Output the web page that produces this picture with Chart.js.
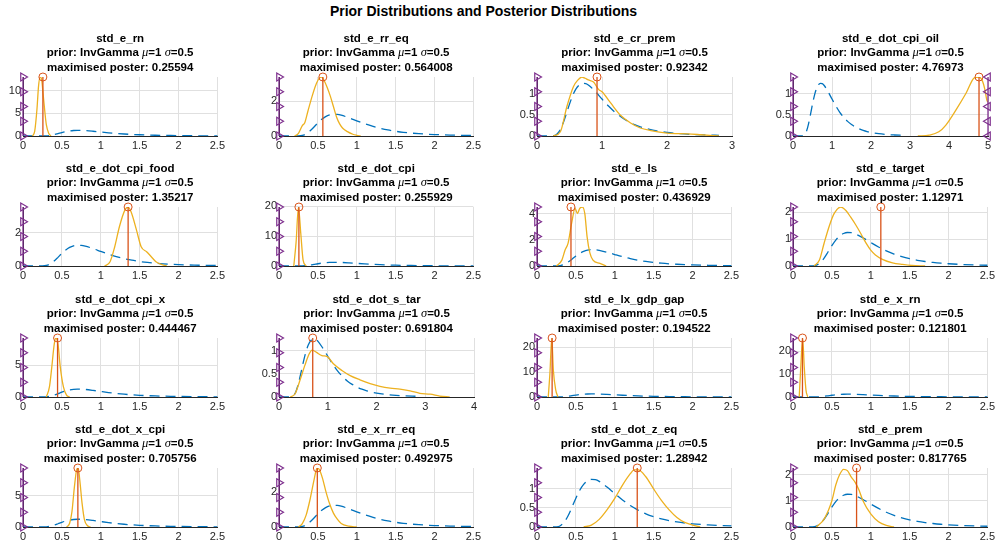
<!DOCTYPE html>
<html>
<head>
<meta charset="utf-8">
<script src="https://cdn.jsdelivr.net/npm/chart.js@4"></script>
<style>
  body { margin: 0; background: #fff; width: 996px; height: 548px; position: relative; overflow: hidden; font-family: "Liberation Sans", Arial, sans-serif; }
  #mainTitle { position: absolute; left: 0; top: 3px; width: 967px; text-align: center; font-weight: bold; font-size: 14px; line-height: 17px; color: #000; }
  canvas { position: absolute; }
</style>
</head>
<body>
<div id="mainTitle">Prior Distributions and Posterior Distributions</div>
<script>
// Paramètres estimés et modes
const paramNames = ["std_e_rn", "std_e_rr_eq", "std_e_cr_prem", "std_e_dot_cpi_oil",
  "std_e_dot_cpi_food", "std_e_dot_cpi", "std_e_ls", "std_e_target",
  "std_e_dot_cpi_x", "std_e_dot_s_tar", "std_e_lx_gdp_gap", "std_e_x_rn",
  "std_e_dot_x_cpi", "std_e_x_rr_eq", "std_e_dot_z_eq", "std_e_prem"];
const modeLabels = ["0.25594", "0.564008", "0.92342", "4.76973",
  "1.35217", "0.255929", "0.436929", "1.12971",
  "0.444467", "0.691804", "0.194522", "0.121801",
  "0.705756", "0.492975", "1.28942", "0.817765"];

// Axes
const xMax = [2.5, 2.5, 3, 5, 2.5, 2.5, 2.5, 2.5, 2.5, 4, 2.5, 2.5, 2.5, 2.5, 2.5, 2.5];
const xStep = [0.5, 0.5, 1, 1, 0.5, 0.5, 0.5, 0.5, 0.5, 1, 0.5, 0.5, 0.5, 0.5, 0.5, 0.5];
const yMax = [13, 3.4, 1.4, 1.4, 3.55, 19.8, 4.5, 2.2, 9.35, 1.27, 23.8, 25.8, 9.5, 3.4, 1.55, 2.25];
const yTicks = [[0, 5, 10], [0, 2], [0, 0.5, 1], [0, 0.5, 1],
  [0, 2], [0, 10, 20], [0, 2, 4], [0, 1, 2],
  [0, 5], [0, 0.5, 1], [0, 10, 20], [0, 10, 20],
  [0, 5], [0, 2], [0, 0.5, 1], [0, 1, 2]];
const upperBound = [null, null, null, 5, null, null, null, null, null, null, null, null, null, null, null, null];

// Prior InvGamma mu=1 sigma=0.5 (même densité pour tous)
const priorX = [0, 0.1, 0.2, 0.25, 0.3, 0.35, 0.4, 0.45, 0.5, 0.55, 0.6, 0.65, 0.7, 0.75, 0.8, 0.9, 1.0,
  1.1, 1.2, 1.3, 1.4, 1.5, 1.6, 1.7, 1.8, 1.9, 2.0, 2.2, 2.4, 2.6, 2.8];
const priorY = [0, 0, 0.0001, 0.004, 0.034, 0.126, 0.296, 0.521, 0.757, 0.965, 1.118, 1.211, 1.249, 1.242, 1.198, 1.05, 0.877,
  0.71, 0.563, 0.444, 0.347, 0.272, 0.213, 0.168, 0.133, 0.105, 0.084, 0.054, 0.035, 0.024, 0.016];

// Densités postérieures
const rnX = [0.12, 0.15, 0.18, 0.2, 0.22, 0.24, 0.26, 0.28, 0.3, 0.33, 0.36];
const rnY = [0, 1, 6, 11, 13, 12.4, 9, 5.5, 2.5, 0.6, 0];
const rrEqX = [0.2, 0.25, 0.3, 0.33, 0.37, 0.42, 0.47, 0.52, 0.55, 0.58, 0.62, 0.66, 0.7, 0.74, 0.78, 0.82, 0.88, 0.95, 1.0, 1.05];
const rrEqY = [0, 0.15, 0.6, 0.75, 1.4, 2.2, 2.9, 3.35, 3.4, 3.2, 2.8, 2.3, 1.7, 1.1, 0.7, 0.45, 0.25, 0.1, 0.04, 0];
const crPremX = [0.25, 0.36, 0.46, 0.56, 0.63, 0.69, 0.74, 0.79, 0.87, 0.95, 1.0, 1.13, 1.28, 1.44, 1.59, 1.75, 2.0, 2.32, 2.52, 2.8];
const crPremY = [0, 0.1, 0.7, 1.17, 1.33, 1.4, 1.37, 1.33, 1.28, 1.1, 1.05, 0.79, 0.5, 0.31, 0.19, 0.13, 0.07, 0.05, 0.03, 0];
const cpiOilX = [3.2, 3.49, 3.74, 3.92, 4.18, 4.44, 4.65, 4.77, 4.86, 4.92, 4.97, 5.0];
const cpiOilY = [0, 0.02, 0.1, 0.26, 0.62, 1.02, 1.38, 1.4, 1.3, 1.1, 0.85, 0.8];
const cpiFoodX = [1.05, 1.12, 1.18, 1.24, 1.31, 1.35, 1.39, 1.46, 1.52, 1.59, 1.65, 1.71, 1.8, 1.85];
const cpiFoodY = [0, 0.26, 1.16, 2.36, 3.36, 3.55, 3.26, 2.16, 1.16, 0.86, 0.56, 0.26, 0.06, 0];
const dotCpiX = [0.19, 0.22, 0.25, 0.28, 0.31, 0.35];
const dotCpiY = [0, 8, 19.8, 11, 2, 0];
const lsX = [0.25, 0.32, 0.36, 0.4, 0.445, 0.49, 0.52, 0.55, 0.585, 0.615, 0.645, 0.68, 0.72, 0.81, 0.89];
const lsY = [0, 0.45, 1.2, 1.75, 3.25, 4.4, 4.0, 4.4, 4.5, 4.0, 2.2, 1.0, 0.45, 0.2, 0];
const targetX = [0.27, 0.34, 0.4, 0.47, 0.53, 0.615, 0.68, 0.74, 0.81, 0.87, 0.94, 1.0, 1.06, 1.15, 1.28, 1.41, 1.53, 1.7];
const targetY = [0, 0.22, 0.85, 1.52, 1.96, 2.2, 2.07, 1.83, 1.52, 1.22, 0.85, 0.59, 0.41, 0.25, 0.12, 0.06, 0.02, 0];
const cpiXX = [0.3, 0.34, 0.37, 0.4, 0.42, 0.45, 0.48, 0.52, 0.56, 0.6];
const cpiXY = [0, 1.6, 4.7, 8.2, 9.35, 8.4, 4.7, 1.6, 0.3, 0];
const sTarX = [0.23, 0.33, 0.43, 0.53, 0.62, 0.68, 0.77, 0.88, 0.99, 1.11, 1.29, 1.46, 1.66, 1.87, 2.07, 2.28, 2.48, 2.69, 2.89, 3.1, 3.3, 3.5];
const sTarY = [0, 0.07, 0.36, 0.68, 0.93, 1.01, 0.96, 0.89, 0.87, 0.72, 0.57, 0.46, 0.37, 0.29, 0.23, 0.19, 0.17, 0.13, 0.08, 0.06, 0.02, 0];
const gdpGapX = [0.145, 0.167, 0.19, 0.21, 0.24, 0.27];
const gdpGapY = [0, 10, 23.8, 11, 3, 0];
const xRnX = [0.08, 0.1, 0.124, 0.145, 0.167, 0.19];
const xRnY = [0, 13, 25.8, 13, 3, 0];
const xCpiX = [0.56, 0.6, 0.63, 0.66, 0.69, 0.71, 0.73, 0.76, 0.79, 0.83, 0.87];
const xCpiY = [0, 0.6, 2.5, 6.3, 9.2, 9.5, 7.6, 3.8, 1.2, 0.2, 0];
const xRrEqX = [0.25, 0.3, 0.35, 0.4, 0.45, 0.48, 0.5, 0.53, 0.56, 0.6, 0.65, 0.7, 0.75, 0.8, 0.9, 1.0];
const xRrEqY = [0, 0.2, 0.7, 1.6, 2.7, 3.3, 3.4, 3.2, 2.8, 2.1, 1.35, 0.8, 0.45, 0.2, 0.05, 0];
const zEqX = [0.6, 0.7, 0.8, 0.9, 1.0, 1.1, 1.2, 1.25, 1.3, 1.4, 1.5, 1.6, 1.7, 1.8, 1.9, 2.0, 2.1];
const zEqY = [0, 0.05, 0.2, 0.45, 0.75, 1.1, 1.4, 1.5, 1.5, 1.32, 1.0, 0.7, 0.45, 0.25, 0.12, 0.05, 0];
const premX = [0.3, 0.4, 0.5, 0.55, 0.6, 0.65, 0.7, 0.75, 0.8, 0.85, 0.9, 1.0, 1.1, 1.2, 1.3];
const premY = [0, 0.3, 1.0, 1.6, 2.0, 2.2, 2.15, 1.9, 1.7, 1.4, 1.0, 0.5, 0.2, 0.06, 0];

const posteriors = [[rnX, rnY], [rrEqX, rrEqY], [crPremX, crPremY], [cpiOilX, cpiOilY],
  [cpiFoodX, cpiFoodY], [dotCpiX, dotCpiY], [lsX, lsY], [targetX, targetY],
  [cpiXX, cpiXY], [sTarX, sTarY], [gdpGapX, gdpGapY], [xRnX, xRnY],
  [xCpiX, xCpiY], [xRrEqX, xRrEqY], [zEqX, zEqY], [premX, premY]];

// Mise en page
const colLeft = [23, 279, 537, 793];
const rowTop = [77, 207, 338, 468];
const PLOT_W = 195, PLOT_H = 59;
const PAD_L = 23, PAD_R = 10, PAD_T = 46, PAD_B = 20;
const BLUE = "#0072BD", ORANGE = "#EDB120", RED = "#D95319", PURPLE = "#7E2F8E";
const GRID = "#e0e0e0", AXIS = "#262626";
const FONT = "'Liberation Sans', Arial, sans-serif";

const toPoints = (xs, ys) => xs.map((x, k) => ({ x: x, y: ys[k] }));
const tickText = (v) => String(Math.round(v * 100) / 100);

// Titre à trois lignes au-dessus de chaque graphique
const panelTitle = {
  id: "panelTitle",
  afterDraw(chart) {
    const o = chart.options.plugins.panelTitle;
    const ctx = chart.ctx;
    const cx = (chart.chartArea.left + chart.chartArea.right) / 2;
    const top = chart.chartArea.top;
    const bold = "bold 11.5px " + FONT;
    const ital = "italic 12.5px 'Liberation Serif', serif";
    ctx.save();
    ctx.fillStyle = "#000";
    ctx.textBaseline = "middle";
    ctx.textAlign = "center";
    ctx.font = bold;
    ctx.fillText(o.name, cx, top - 38);
    ctx.fillText("maximised poster: " + o.mode, cx, top - 9.5);
    const parts = [["prior: InvGamma ", bold], ["\u03BC", ital], ["=1 ", bold], ["\u03C3", ital], ["=0.5", bold]];
    let total = 0;
    parts.forEach((p) => { ctx.font = p[1]; total += ctx.measureText(p[0]).width; });
    let x = cx - total / 2;
    ctx.textAlign = "left";
    parts.forEach((p) => {
      ctx.font = p[1];
      ctx.fillText(p[0], x, top - 24);
      x += ctx.measureText(p[0]).width;
    });
    ctx.restore();
  },
};

function makePanel(i) {
  const row = Math.floor(i / 4), col = i % 4;
  const canvas = document.createElement("canvas");
  canvas.width = PAD_L + PLOT_W + PAD_R;
  canvas.height = PAD_T + PLOT_H + PAD_B;
  canvas.style.left = (colLeft[col] - PAD_L) + "px";
  canvas.style.top = (rowTop[row] - PAD_T) + "px";
  document.body.append(canvas);

  const mode = Number(modeLabels[i]);
  const ym = yMax[i];
  const boundSteps = [0, 0.25, 0.5, 0.75, 1];
  const datasets = [
    {
      data: boundSteps.map((f) => ({ x: 0, y: f * ym })),
      borderColor: PURPLE, borderWidth: 1.3,
      pointStyle: "triangle", rotation: 90, pointRadius: 4.5,
      pointBorderColor: PURPLE, pointBackgroundColor: "rgba(0,0,0,0)", pointBorderWidth: 1.2,
      clip: false,
    },
  ];
  if (upperBound[i] !== null) {
    datasets.push({
      data: boundSteps.map((f) => ({ x: upperBound[i], y: f * ym })),
      borderColor: PURPLE, borderWidth: 1.3,
      pointStyle: "triangle", rotation: -90, pointRadius: 4.5,
      pointBorderColor: PURPLE, pointBackgroundColor: "rgba(0,0,0,0)", pointBorderWidth: 1.2,
      clip: false,
    });
  }
  datasets.push(
    {
      data: [{ x: mode, y: 0 }, { x: mode, y: ym }],
      borderColor: RED, borderWidth: 1.3,
      pointRadius: [0, 4], pointStyle: "circle",
      pointBorderColor: RED, pointBackgroundColor: "rgba(0,0,0,0)", pointBorderWidth: 1,
      clip: false,
    },
    {
      data: toPoints(posteriors[i][0], posteriors[i][1]),
      borderColor: ORANGE, borderWidth: 1.3, pointRadius: 0,
      cubicInterpolationMode: "monotone",
    },
    {
      data: toPoints(priorX, priorY),
      borderColor: BLUE, borderWidth: 1.3, borderDash: [10, 6], pointRadius: 0,
      cubicInterpolationMode: "monotone",
    }
  );

  new Chart(canvas, {
    type: "line",
    data: { datasets: datasets },
    plugins: [panelTitle],
    options: {
      responsive: false,
      animation: false,
      events: [],
      layout: { padding: { top: PAD_T, right: PAD_R, left: 0, bottom: 0 } },
      plugins: {
        legend: { display: false },
        tooltip: { enabled: false },
        panelTitle: { name: paramNames[i], mode: modeLabels[i] },
      },
      scales: {
        x: {
          type: "linear", min: 0, max: xMax[i],
          ticks: {
            stepSize: xStep[i], autoSkip: false, maxRotation: 0, padding: 3,
            color: AXIS, font: { family: FONT, size: 11 },
            callback: tickText,
          },
          grid: { color: GRID, drawTicks: false },
          border: { color: AXIS, width: 1 },
          afterFit: (s) => { s.height = PAD_B; },
        },
        y: {
          type: "linear", min: 0, max: ym,
          afterBuildTicks: (s) => { s.ticks = yTicks[i].map((v) => ({ value: v })); },
          ticks: { padding: 2, color: AXIS, font: { family: FONT, size: 11 }, callback: tickText },
          grid: { color: GRID, drawTicks: false },
          border: { color: AXIS, width: 1 },
          afterFit: (s) => { s.width = PAD_L; },
        },
      },
    },
  });
}

paramNames.forEach((name, i) => makePanel(i));
</script>
</body>
</html>
